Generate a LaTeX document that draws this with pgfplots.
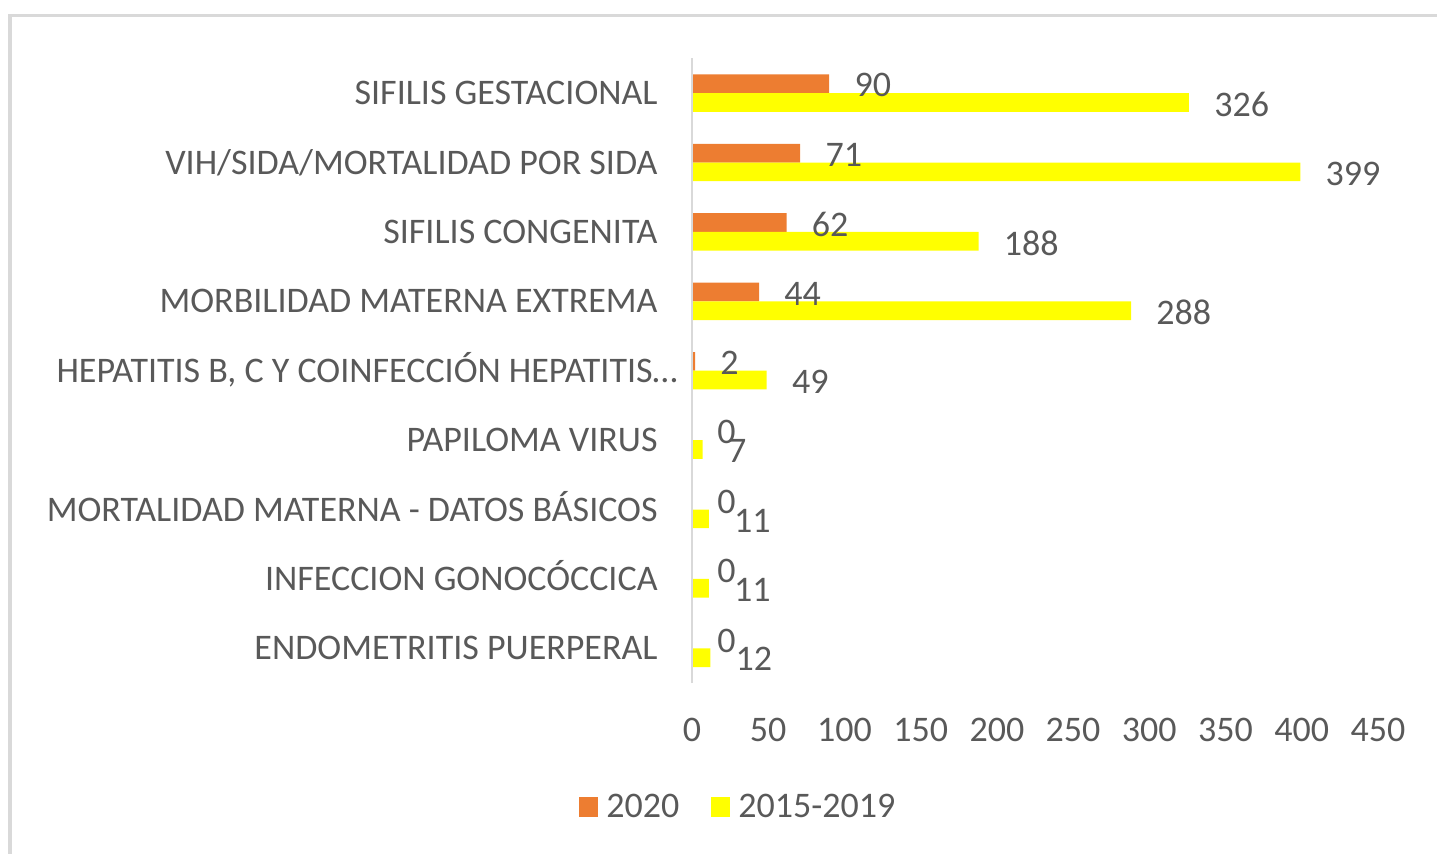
\documentclass[border=0pt]{standalone}
\usepackage{fontspec}
\setmainfont{Carlito}
\usepackage{pgfplots}
\pgfplotsset{compat=1.18}
\definecolor{txt}{HTML}{595959}
\definecolor{c2020}{HTML}{ED7D31}
\definecolor{cpast}{HTML}{FFFF00}
\definecolor{axg}{HTML}{D9D9D9}
\newcommand{\f}{\fontsize{18}{21.6}\selectfont}
\begin{document}
\begin{tikzpicture}
\path[use as bounding box] (0,0) rectangle (718.5pt,-426.5pt);
\draw[axg, line width=1.6pt] (5pt,-430pt) -- (5pt,-7.75pt) -- (722pt,-7.75pt);
\begin{axis}[
  at={(346pt,-341.5pt)}, anchor=south west,
  scale only axis, width=343pt, height=312.3pt,
  xbar, bar width=9.35pt,
  xmin=0, xmax=450, ymin=-0.5, ymax=8.5,
  clip=false, axis on top,
  axis x line*=bottom, axis y line*=left,
  x axis line style={draw=none},
  y axis line style={draw=axg, line width=1.4pt},
  xtick={0,50,...,450},
  ytick={0,...,8},
  yticklabels={ENDOMETRITIS PUERPERAL, INFECCION GONOCÓCCICA, MORTALIDAD MATERNA - DATOS BÁSICOS, PAPILOMA VIRUS, {HEPATITIS B, C Y COINFECCIÓN HEPATITIS…\hspace*{-10pt}}, MORBILIDAD MATERNA EXTREMA, SIFILIS CONGENITA, VIH/SIDA/MORTALIDAD POR SIDA, SIFILIS GESTACIONAL},
  major tick length=0pt,
  font=\f,
  /pgf/number format/assume math mode=true,
  tick label style={text=txt, font=\f},
  xticklabel style={anchor=base, inner sep=0pt, yshift=-29pt},
  yticklabel style={anchor=base east, inner sep=0pt, xshift=-17pt, yshift=-5.8pt},
  nodes near coords,
  every node near coord/.append style={anchor=west, inner sep=0pt, xshift=12.5pt, yshift=-0.8pt, text=txt, font=\f},
  legend style={at={(0.066,-0.1985)}, anchor=center, draw=none, fill=none,
    legend columns=2, font=\f, text=txt,
    /tikz/every even column/.append style={column sep=16pt},
    /tikz/every odd column/.append style={column sep=4pt},
    nodes={inner sep=0pt}},
]
\addplot[fill=c2020, draw=none, bar shift=4.675pt,
  legend image code/.code={\fill[c2020] (0pt,-5pt) rectangle (9.5pt,5pt);}]
  coordinates {(0,0) (0,1) (0,2) (0,3) (2,4) (44,5) (62,6) (71,7) (90,8)};
\addlegendentry{2020}
\addplot[fill=cpast, draw=none, bar shift=-4.675pt,
  legend image code/.code={\fill[cpast] (0pt,-5pt) rectangle (9.5pt,5pt);}]
  coordinates {(12,0) (11,1) (11,2) (7,3) (49,4) (288,5) (188,6) (399,7) (326,8)};
\addlegendentry{2015-2019}
\end{axis}
\end{tikzpicture}
\end{document}
